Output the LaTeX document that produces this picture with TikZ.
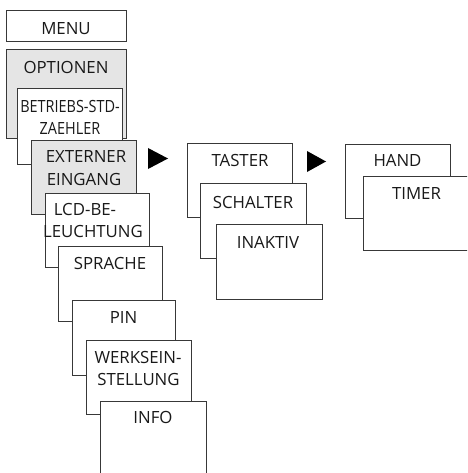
\documentclass[tikz,border=0pt]{standalone}
\usepackage{fontspec}
\setmainfont{Open Sans}
\begin{document}
\begin{tikzpicture}[x=1pt,y=-1pt,
  box/.style={draw=black!78, line width=0.9pt, fill=white, inner sep=0pt, anchor=north west},
  gbox/.style={box, fill=black!10},
  lbl/.style={anchor=base, inner sep=0pt, font=\fontsize{16.8}{20}\selectfont, text=black!90},
  tri/.style={fill=black}]
\clip (0,0) rectangle (467,473);
\fill[white] (0,0) rectangle (467,473);
% left column
\node[box, minimum width=120, minimum height=31] (menu) at (6,10) {};
\node[lbl] (menu-t) at (66,35) {MENU};
\node[gbox, minimum width=120, minimum height=89] (opt) at (6,49) {};
\node[lbl] (opt-t) at (66,74) {OPTIONEN};
\node[box, minimum width=105, minimum height=76] (betr) at (17,88) {};
\node[lbl, xscale=0.86] (betr-t1) at (70,113) {BETRIEBS-STD-};
\node[lbl, xscale=0.86] (betr-t2) at (70,135) {ZAEHLER};
\node[gbox, minimum width=105, minimum height=74] (ext) at (31,140) {};
\node[lbl] (ext-t1) at (86,163) {EXTERNER};
\node[lbl] (ext-t2) at (84,185) {EINGANG};
\node[box, minimum width=104, minimum height=74] (lcd) at (45,193) {};
\node[lbl] (lcd-t1) at (85,215) {LCD-BE-};
\node[lbl] (lcd-t2) at (93,237) {LEUCHTUNG};
\node[box, minimum width=104, minimum height=75] (spr) at (58,246) {};
\node[lbl] (spr-t) at (110,269) {SPRACHE};
\node[box, minimum width=103, minimum height=75] (pin) at (72,300) {};
\node[lbl] (pin-t) at (123.5,323) {PIN};
\node[box, minimum width=105, minimum height=74] (werk) at (86,340) {};
\node[lbl] (werk-t1) at (138,363) {WERKSEIN-};
\node[lbl] (werk-t2) at (138.5,385) {STELLUNG};
\node[box, minimum width=106, minimum height=90] (info) at (100,401) {};
\node[lbl] (info-t) at (153,423) {INFO};
% arrows
\fill[tri] (148,148) -- (168,158.5) -- (148,169) -- cycle;
\fill[tri] (307,151) -- (326,161.5) -- (307,172) -- cycle;
% middle column
\node[box, minimum width=105, minimum height=74] (tast) at (187,143) {};
\node[lbl] (tast-t) at (240,166) {TASTER};
\node[box, minimum width=106, minimum height=75] (scha) at (200,183) {};
\node[lbl] (scha-t) at (253,208) {SCHALTER};
\node[box, minimum width=106, minimum height=75] (inak) at (216,224) {};
\node[lbl] (inak-t) at (268,248) {INAKTIV};
% right column
\node[box, minimum width=105, minimum height=74] (hand) at (345,144) {};
\node[lbl] (hand-t) at (397.5,167) {HAND};
\node[box, minimum width=107, minimum height=74] (timer) at (363,176) {};
\node[lbl] (timer-t) at (416.5,199) {TIMER};
\end{tikzpicture}
\end{document}
